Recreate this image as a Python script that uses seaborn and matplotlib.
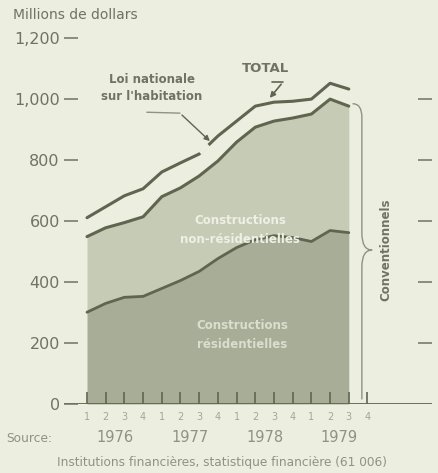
import matplotlib
matplotlib.use("Agg")
import matplotlib.pyplot as plt
from matplotlib.path import Path
from matplotlib.patches import PathPatch
import seaborn as sns
import numpy as np
import pandas as pd

# quarterly data, 1976 Q1 .. 1979 Q3 (millions de dollars)
quarters = list(range(15))
residentielles = [301, 330, 350, 353, 379, 405, 435, 477, 513, 539, 552, 546, 533, 569, 562]
conventionnels = [549, 578, 595, 614, 680, 709, 748, 797, 859, 908, 928, 938, 951, 1000, 977]
total = [611, 647, 683, 706, 761, 791, 820, 879, 928, 977, 990, 993, 1000, 1052, 1033]

tick_quarters = ["1", "2", "3", "4"] * 4
years = ["1976", "1977", "1978", "1979"]
y_ticks = [0, 200, 400, 600, 800, 1000, 1200]
y_labels = ["0", "200", "400", "600", "800", "1,000", "1,200"]

df = pd.DataFrame({"q": quarters, "res": residentielles,
                   "conv": conventionnels, "total": total})

bg = "#eceee0"
c_light = "#c6cbb6"
c_dark = "#a8ad98"
c_line = "#60654f"
c_text = "#6f7362"
c_faint = "#8f9381"

sns.set_theme(style="white")
plt.rcParams["font.family"] = ["DejaVu Sans"]

fig = plt.figure(figsize=(4.38, 4.73), dpi=100, facecolor=bg)
ax = fig.add_axes([64 / 438, 69 / 473, 368 / 438, 375 / 473])
ax.set_facecolor(bg)
ax.set_axisbelow(False)

ax.fill_between(df["q"], 0, df["res"], color=c_dark, lw=0)
ax.fill_between(df["q"], df["res"], df["conv"], color=c_light, lw=0)
sns.lineplot(data=df, x="q", y="res", ax=ax, color=c_line, lw=2.0)
sns.lineplot(data=df, x="q", y="conv", ax=ax, color=c_line, lw=2.2)
sns.lineplot(data=df, x="q", y="total", ax=ax, color=c_line, lw=2.2)

# small break in the TOTAL line where the arrow points
gx = np.linspace(6.05, 6.5, 10)
ax.plot(gx, np.interp(gx, quarters, total), color=bg, lw=3.2,
        solid_capstyle="butt", zorder=3)

ax.set_xlim(-1.23, 18.45)
ax.set_ylim(0, 1230)
for s in ax.spines.values():
    s.set_visible(False)
ax.axhline(0, color=c_line, lw=1.3)

ax.set_xticks(range(16))
ax.set_xticklabels(tick_quarters, fontsize=7, color="#a3a795")
ax.tick_params(axis="x", bottom=True, direction="in", length=8.5, width=1.2,
               color=c_line, pad=6)
last = ax.xaxis.get_major_ticks()[15]
last.tick1line.set_color("#b5b9a7")

ax.set_yticks(y_ticks)
ax.set_yticklabels(y_labels, fontsize=11.5, color=c_text)
ax.tick_params(axis="y", left=True, right=True, direction="in", length=10,
               width=1.1, color=c_text, pad=3)
ax.yaxis.get_major_ticks()[0].tick2line.set_visible(False)
ax.yaxis.get_major_ticks()[-1].tick2line.set_visible(False)
ax.set_xlabel("")
ax.set_ylabel("")

trans = ax.get_xaxis_transform()
for k, yr in enumerate(years):
    ax.text(1.5 + 4 * k, -0.088, yr, transform=trans, ha="center", va="center",
            fontsize=10.5, color=c_faint)

fig.text(13 / 438, 1 - 15 / 473, "Millions de dollars", fontsize=10, color=c_text,
         ha="left", va="center")
fig.text(6 / 438, 1 - 438 / 473, "Source:", fontsize=8.8, color=c_faint,
         ha="left", va="center")
fig.text(222 / 438, 1 - 462 / 473,
         "Institutions financières, statistique financière (61 006)",
         fontsize=8.7, color=c_faint, ha="center", va="center")

# annotations
ax.text(9.52, 1102, "TOTAL", fontsize=9.5, fontweight="bold", color=c_text,
        ha="center", va="center")
ax.plot([9.89, 10.48], [1056, 1056], color=c_line, lw=1.2)
ax.annotate("", xy=(9.68, 997), xytext=(10.48, 1056),
            arrowprops=dict(arrowstyle="-|>", color=c_line, lw=1.2,
                            mutation_scale=8))

ax.text(3.48, 1036, "Loi nationale\nsur l'habitation", fontsize=8.5,
        fontweight="bold", color=c_text, ha="center", va="center",
        linespacing=1.4)
ax.plot([3.2, 4.97], [957, 954], color=c_faint, lw=1.0)
ax.annotate("", xy=(6.68, 856), xytext=(4.97, 954),
            arrowprops=dict(arrowstyle="-|>", color=c_line, lw=1.0,
                            mutation_scale=8))

ax.text(8.18, 570, "Constructions\nnon-résidentielles", fontsize=8.5,
        fontweight="bold", color="#eef0e4", ha="center", va="center",
        linespacing=1.6)
ax.text(8.29, 226, "Constructions\nrésidentielles", fontsize=8.5,
        fontweight="bold", color="#dadecd", ha="center", va="center",
        linespacing=1.6)

# brace for conventionnels
verts = [(14.2, 985), (14.7, 985), (14.7, 940),
         (14.7, 560),
         (14.7, 505), (15.25, 505),
         (14.7, 505), (14.7, 450),
         (14.7, 15)]
codes = [Path.MOVETO, Path.CURVE3, Path.CURVE3,
         Path.LINETO,
         Path.CURVE3, Path.CURVE3,
         Path.CURVE3, Path.CURVE3,
         Path.LINETO]
ax.add_patch(PathPatch(Path(verts, codes), fill=False, edgecolor=c_faint, lw=1.0))
ax.text(16.0, 505, "Conventionnels", rotation=90, fontsize=8.5,
        fontweight="bold", color=c_text, ha="center", va="center")

fig.savefig("out.png", dpi=100, facecolor=bg)
